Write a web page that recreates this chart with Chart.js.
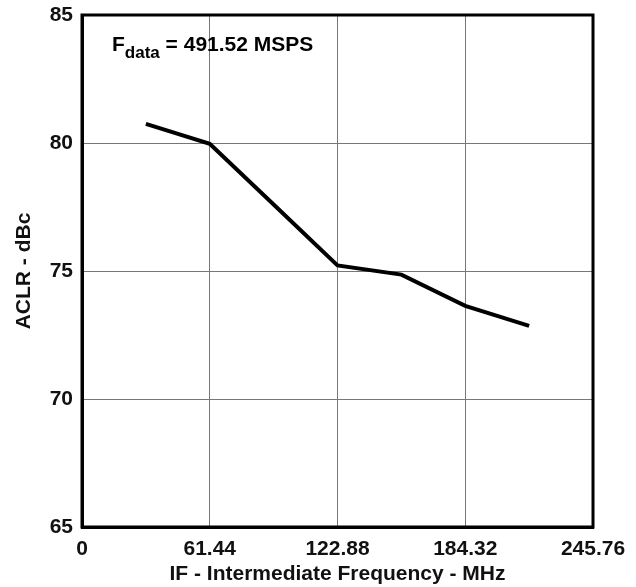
<!DOCTYPE html>
<html>
<head>
<meta charset="utf-8">
<script src="https://cdn.jsdelivr.net/npm/chart.js@4/dist/chart.umd.min.js"></script>
<style>
  html, body { margin: 0; padding: 0; background: #fff; }
  #wrap { width: 636px; height: 587px; }
</style>
</head>
<body>
<div id="wrap"><canvas id="aclr_chart" width="636" height="587"></canvas></div>
<script>
// values
var IF_MHZ = [30.72, 61.44, 92.16, 122.88, 153.6, 184.32, 215.04];
var ACLR_DBC = [80.75, 79.97, 77.6, 75.22, 74.86, 73.64, 72.86];
var X_TICKS = [0, 61.44, 122.88, 184.32, 245.76];
var Y_TICKS = [65, 70, 75, 80, 85];
var X_TITLE = "IF - Intermediate Frequency - MHz";
var Y_TITLE = "ACLR - dBc";

const FONT = "'Liberation Sans', Arial, sans-serif";

// the "F data = 491.52 MSPS" note inside the plot
const notePlugin = {
  id: "note",
  afterDraw(chart) {
    const ctx = chart.ctx;
    ctx.save();
    ctx.fillStyle = "#000";
    ctx.textBaseline = "alphabetic";
    ctx.font = "bold 21px " + FONT;
    let x = 112;
    ctx.fillText("F", x, 51);
    x += ctx.measureText("F").width;
    ctx.font = "bold 17px " + FONT;
    ctx.fillText("data", x, 58);
    x += ctx.measureText("data").width;
    ctx.font = "bold 21px " + FONT;
    ctx.fillText(" = 491.52 MSPS", x, 51);
    ctx.restore();
  }
};

const points = IF_MHZ.map((f, i) => ({ x: f, y: ACLR_DBC[i] }));

new Chart(document.getElementById("aclr_chart"), {
  type: "scatter",
  data: {
    datasets: [{
      data: points,
      showLine: true,
      borderColor: "#000",
      borderWidth: 4,
      pointRadius: 0,
      tension: 0,
      borderJoinStyle: "miter"
    }]
  },
  options: {
    responsive: false,
    animation: false,
    layout: { padding: { top: 15, right: 43, left: 0, bottom: 0 } },
    plugins: { legend: { display: false }, tooltip: { enabled: false } },
    scales: {
      x: {
        type: "linear",
        min: 0,
        max: 245.76,
        afterBuildTicks: (scale) => { scale.ticks = X_TICKS.map(v => ({ value: v })); },
        afterFit: (scale) => {
          scale.height = 60;
          scale.paddingLeft = 0;
          scale.paddingRight = 0;
        },
        grid: { color: "#777", lineWidth: 1, drawTicks: false },
        border: { color: "#000", width: 3 },
        ticks: {
          color: "#111",
          font: { family: FONT, size: 21, weight: "bold" },
          padding: 10,
          maxRotation: 0,
          autoSkip: false,
          callback: (v) => String(v)
        },
        title: {
          display: true,
          text: X_TITLE,
          color: "#111",
          font: { family: FONT, size: 21, weight: "bold" },
          padding: { top: 0, bottom: 0 }
        }
      },
      y: {
        type: "linear",
        min: 65,
        max: 85,
        afterBuildTicks: (scale) => { scale.ticks = Y_TICKS.map(v => ({ value: v })); },
        afterFit: (scale) => {
          scale.width = 82;
          scale.paddingTop = 0;
          scale.paddingBottom = 0;
        },
        grid: { color: "#777", lineWidth: 1, drawTicks: false },
        border: { color: "#000", width: 3 },
        ticks: {
          color: "#111",
          font: { family: FONT, size: 21, weight: "bold" },
          padding: 9,
          autoSkip: false
        },
        title: {
          display: true,
          text: Y_TITLE,
          color: "#111",
          font: { family: FONT, size: 21, weight: "bold" },
          padding: { top: 12, bottom: 4 }
        }
      }
    }
  },
  plugins: [notePlugin,
    {
      // close the plot box on top and right like the reference
      id: "frame",
      afterDatasetsDraw(chart) {
        const a = chart.chartArea, ctx = chart.ctx;
        ctx.save();
        ctx.strokeStyle = "#000";
        ctx.lineWidth = 3;
        ctx.strokeRect(a.left, a.top, a.right - a.left, a.bottom - a.top);
        ctx.restore();
      }
    }]
});
</script>
</body>
</html>
